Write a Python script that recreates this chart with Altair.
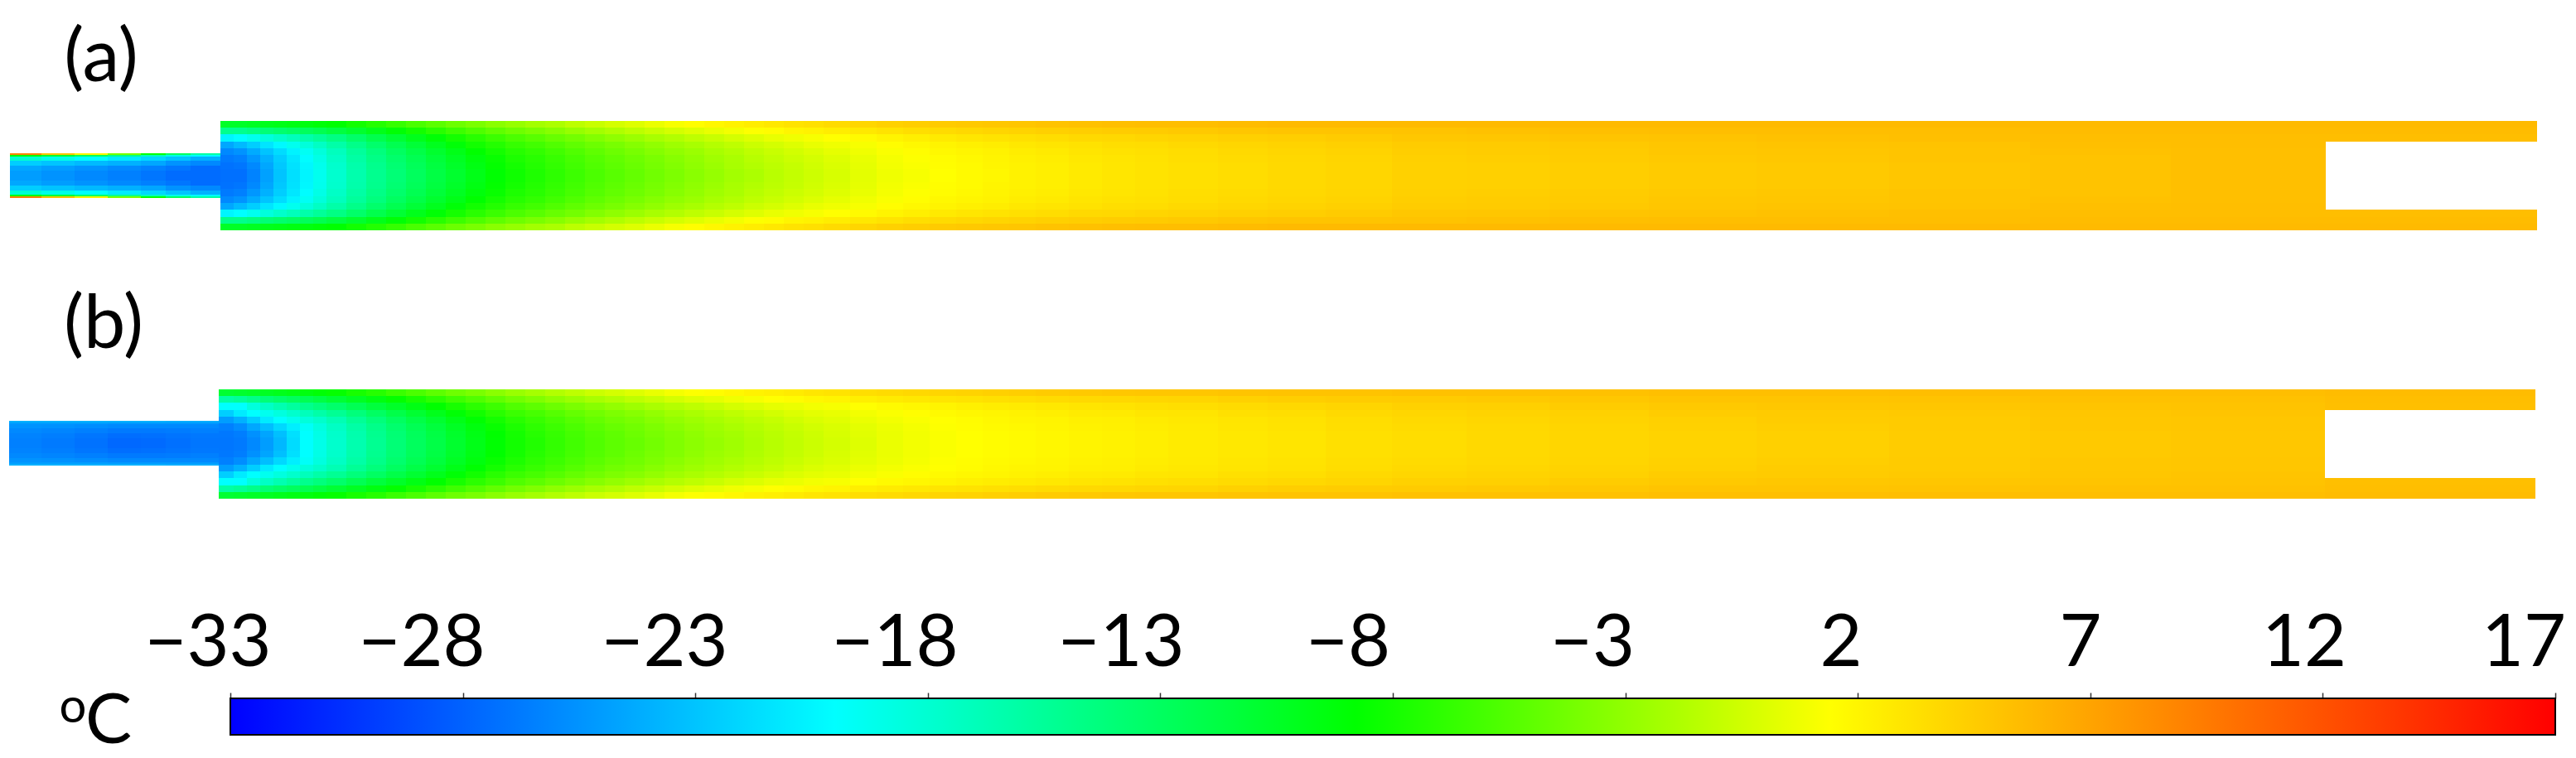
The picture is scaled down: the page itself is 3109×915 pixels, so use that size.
import altair as alt
import pandas as pd

# Temperature scale
T_STOPS = [-33, -20, -8.8, 1.4, 17]
T_COLORS = ["#0000ff", "#00ffff", "#00ff00", "#ffff00", "#ff0000"]
TICKS = [-33, -28, -23, -18, -13, -8, -3, 2, 7, 12, 17]
TICK_TEXT = ["−33", "−28", "−23", "−18", "−13", "−8", "−3", "2", "7", "12", "17"]
TICK_TEXT_X = [251, 509, 802, 1080, 1353, 1627, 1922, 2222, 2511, 2781, 3046]

# Field stations (image pixels along the channel; half-height bands from the axis)
MAIN_EDGES = [266,282,298,314,330,346,362,378,394,
              418,442,466,490,514,538,562,586,610,634,658,682,706,730,754,778,802,826,850,874,898,922,946,970,994,
              1026,1058,1090,1122,1154,1186,1218,1250,1290,1330,1370,1410,
              1470,1530,1600,1680,1770,1870,1990,2120,2280,2450,2620,2807]
MAIN_BANDS = [0, 8, 16, 25, 33, 41, 50, 58, 66]
INLET_EDGES = [12, 50, 90, 130, 170, 200, 230, 266]
INLET_BANDS = [0, 6, 12, 18, 23, 25, 27]

MAIN_A = [
 [-27.3,-27.2,-26.8,-26,-24.5,-20.5,-15,-10.5],[-27.3,-27,-26.5,-25.5,-23.5,-20,-15,-10.5],
 [-26.3,-26,-25.3,-24.3,-22.5,-19.3,-14.5,-10.3],[-24.8,-24.5,-24,-23,-21.3,-18.5,-14,-10],
 [-23,-22.8,-22.5,-21.8,-20.3,-17.7,-13.6,-9.8],[-21.6,-21.5,-21.2,-20.6,-19.3,-17,-13.2,-9.6],
 [-20.5,-20.4,-20.1,-19.5,-18.4,-16.3,-12.8,-9.4],[-19.3,-19.2,-18.9,-18.4,-17.4,-15.5,-12.3,-9.1],
 [-17.9,-17.8,-17.5,-17.1,-16.2,-14.6,-11.6,-8.8],[-16.4,-16.3,-16,-15.6,-14.8,-13.4,-10.8,-8.1],
 [-15.1,-15,-14.7,-14.3,-13.5,-12.2,-9.9,-7.4],[-14,-13.8,-13.5,-13,-12.3,-11.1,-9,-6.7],
 [-12.9,-12.7,-12.4,-11.9,-11.2,-10,-8.1,-5.9],[-11.8,-11.6,-11.3,-10.8,-10.1,-9,-7.2,-5.2],
 [-10.8,-10.6,-10.3,-9.8,-9.1,-8,-6.4,-4.5],[-9.8,-9.6,-9.3,-8.8,-8.1,-7.2,-5.7,-3.9],
 [-8.9,-8.7,-8.5,-8,-7.4,-6.5,-5,-3.3],[-8.2,-8,-7.7,-7.3,-6.7,-5.8,-4.4,-2.8],
 [-7.6,-7.4,-7.2,-6.8,-6.2,-5.3,-3.9,-2.3],[-7,-6.8,-6.6,-6.2,-5.6,-4.7,-3.4,-1.9],
 [-6.4,-6.2,-6,-5.6,-5,-4.2,-2.8,-1.3],[-5.8,-5.6,-5.4,-5,-4.5,-3.6,-2.3,-0.8],
 [-5.3,-5.1,-4.9,-4.5,-4,-3.1,-1.8,-0.3],[-4.8,-4.6,-4.4,-4,-3.5,-2.6,-1.3,0.1],
 [-4.3,-4.1,-3.9,-3.5,-3,-2.1,-0.8,0.6],[-3.8,-3.6,-3.4,-3,-2.5,-1.7,-0.3,1.1],
 [-3.3,-3.1,-2.9,-2.6,-2.1,-1.2,0.1,1.5],[-2.8,-2.6,-2.4,-2.1,-1.6,-0.8,0.5,1.9],
 [-2.3,-2.1,-2,-1.7,-1.2,-0.3,0.9,2.2],[-1.9,-1.7,-1.5,-1.2,-0.7,0.1,1.3,2.5],
 [-1.4,-1.3,-1.1,-0.8,-0.3,0.5,1.6,2.8],[-1,-0.9,-0.7,-0.4,0.1,0.8,2,3.1],
 [-0.6,-0.5,-0.3,0,0.5,1.1,2.2,3.3],[-0.2,-0.1,0.1,0.4,0.8,1.4,2.5,3.6],
 [0.3,0.4,0.5,0.8,1.1,1.7,2.8,3.9],[0.8,0.9,1,1.2,1.5,2.1,3.1,4.2],
 [1.1,1.2,1.3,1.5,1.8,2.4,3.4,4.4],[1.4,1.5,1.6,1.8,2.1,2.7,3.6,4.6],
 [1.7,1.7,1.8,2,2.3,2.9,3.8,4.7],[1.9,2,2.1,2.2,2.5,3.1,4,4.8],
 [2.2,2.2,2.3,2.5,2.8,3.3,4.1,4.9],[2.4,2.4,2.5,2.7,3,3.5,4.3,5.1],
 [2.7,2.7,2.8,3,3.2,3.7,4.4,5.2],[2.9,2.9,3,3.2,3.4,3.8,4.5,5.3],
 [3.1,3.1,3.2,3.3,3.5,4,4.6,5.4],[3.3,3.3,3.4,3.5,3.7,4.1,4.7,5.4],
 [3.5,3.5,3.6,3.7,3.9,4.3,4.9,5.5],[3.7,3.7,3.8,3.9,4.1,4.4,5,5.6],
 [3.9,3.9,4,4.1,4.3,4.6,5,5.6],[4.2,4.2,4.3,4.4,4.5,4.8,5.1,5.6],
 [4.3,4.3,4.4,4.5,4.6,4.9,5.2,5.6],[4.4,4.4,4.5,4.6,4.7,5,5.3,5.6],
 [4.6,4.6,4.7,4.8,4.9,5.1,5.4,5.6],[4.7,4.7,4.8,4.9,5,5.2,5.4,5.6],
 [4.9,4.9,5,5,5.1,5.3,5.4,5.6],[5.1,5.1,5.1,5.2,5.3,5.4,5.5,5.6],
 [5.3,5.3,5.3,5.3,5.4,5.4,5.5,5.6],
]
MAIN_B = [
 [-27,-26.9,-26.5,-25,-22.5,-20,-16,-11],[-26.8,-26.6,-25.8,-24,-21,-20,-15.5,-10.8],
 [-26,-25.6,-24.5,-22.5,-20,-18.5,-14.8,-10.6],[-25,-24.6,-23.3,-21,-19.3,-17.5,-14,-10.3],
 [-23.6,-23.2,-22,-20,-18.6,-16.6,-13.4,-10],[-21.8,-21.6,-20.8,-19.2,-17.8,-15.8,-12.9,-9.7],
 [-20,-20,-19.7,-18.4,-17,-15,-12.4,-9.4],[-19,-18.9,-18.6,-17.7,-16.2,-14.3,-11.8,-9],
 [-17.8,-17.7,-17.4,-16.7,-15.3,-13.5,-11.1,-8.6],[-16.5,-16.4,-16.1,-15.4,-14.2,-12.5,-10.3,-7.9],
 [-15.2,-15.1,-14.8,-14.2,-13.1,-11.5,-9.5,-7.3],[-14,-13.9,-13.6,-13,-12,-10.6,-8.7,-6.5],
 [-12.9,-12.8,-12.5,-11.9,-11,-9.7,-7.9,-5.8],[-11.9,-11.8,-11.5,-10.9,-10,-8.8,-7.1,-5.1],
 [-10.8,-10.7,-10.4,-9.8,-9,-7.9,-6.3,-4.4],[-9.8,-9.7,-9.4,-8.9,-8.1,-7.1,-5.6,-3.9],
 [-8.9,-8.8,-8.5,-8,-7.2,-6.4,-4.9,-3.3],[-8.1,-8,-7.7,-7.2,-6.5,-5.6,-4.2,-2.7],
 [-7.5,-7.3,-7,-6.6,-6,-5.1,-3.7,-2.2],[-6.8,-6.7,-6.4,-6,-5.4,-4.5,-3.1,-1.7],
 [-6.2,-6.1,-5.8,-5.4,-4.8,-3.9,-2.6,-1.2],[-5.6,-5.5,-5.2,-4.8,-4.3,-3.4,-2.1,-0.7],
 [-5.1,-5,-4.7,-4.3,-3.8,-2.9,-1.7,-0.3],[-4.7,-4.5,-4.3,-3.9,-3.4,-2.5,-1.2,0.1],
 [-4.2,-4,-3.8,-3.4,-2.9,-2,-0.8,0.5],[-3.7,-3.6,-3.3,-2.9,-2.4,-1.6,-0.3,1],
 [-3.2,-3.1,-2.8,-2.5,-2,-1.2,0.1,1.3],[-2.8,-2.6,-2.4,-2.1,-1.6,-0.8,0.4,1.6],
 [-2.4,-2.3,-2,-1.7,-1.2,-0.3,0.8,1.9],[-1.9,-1.8,-1.6,-1.3,-0.8,0,1.1,2.2],
 [-1.5,-1.4,-1.2,-0.9,-0.4,0.4,1.4,2.4],[-1.1,-1,-0.8,-0.5,0,0.6,1.6,2.6],
 [-0.7,-0.6,-0.4,-0.1,0.3,0.9,1.9,2.9],[-0.3,-0.2,-0.1,0.2,0.5,1.1,2.1,3.1],
 [0.1,0.2,0.3,0.6,0.9,1.4,2.4,3.4],[0.6,0.6,0.7,0.9,1.2,1.7,2.6,3.6],
 [0.9,0.9,1,1.2,1.5,1.9,2.8,3.8],[1.2,1.2,1.3,1.4,1.7,2.1,3,4],
 [1.4,1.4,1.5,1.6,1.9,2.3,3.1,4.1],[1.6,1.6,1.7,1.8,2,2.5,3.3,4.3],
 [1.7,1.7,1.8,2,2.2,2.6,3.4,4.4],[1.9,1.9,2,2.1,2.4,2.8,3.6,4.6],
 [2.1,2.1,2.2,2.3,2.6,3,3.7,4.7],[2.2,2.2,2.3,2.4,2.7,3.1,3.8,4.8],
 [2.4,2.4,2.5,2.6,2.9,3.3,3.9,4.9],[2.6,2.6,2.7,2.8,3,3.4,4,4.9],
 [2.8,2.8,2.9,3,3.3,3.6,4.2,5],[3,3,3.1,3.2,3.4,3.8,4.4,5.1],
 [3.3,3.3,3.4,3.5,3.7,4,4.5,5.1],[3.5,3.5,3.6,3.7,3.9,4.2,4.6,5.2],
 [3.7,3.7,3.8,3.9,4.1,4.3,4.7,5.2],[3.9,3.9,4,4.1,4.2,4.5,4.8,5.2],
 [4.1,4.1,4.2,4.3,4.5,4.7,5,5.3],[4.3,4.3,4.4,4.5,4.6,4.8,5,5.3],
 [4.5,4.5,4.6,4.6,4.7,4.9,5.1,5.4],[4.7,4.7,4.8,4.8,4.9,5,5.2,5.4],
 [4.8,4.8,4.9,4.9,5,5.1,5.2,5.4],
]
# Prongs beside the end slot: the three outermost bands
PRONG_A = [5.4, 5.5, 5.6]
PRONG_B = [5.3, 5.4, 5.5]
INLET_A = [
 [-25,-24.5,-22.5,-18,-9,9],[-25.5,-25,-23,-19,-11,5],[-26,-25.5,-23.5,-20,-13,2],
 [-26.5,-26,-24,-21,-15,-4],[-27,-26.5,-24.5,-22,-17,-9],[-27.5,-27,-25.5,-23,-19,-13],
 [-27.5,-27.5,-26,-24,-20,-16],
]
INLET_B = [
 [-26.5,-26.3,-26,-25.5,-25,-24],[-26.8,-26.6,-26.2,-25.6,-25,-24],[-27.2,-27,-26.5,-25.8,-25,-24],
 [-27.7,-27.4,-26.8,-26,-25.2,-24],[-27.6,-27.3,-26.8,-26,-25.2,-24],[-27.3,-27.1,-26.7,-26,-25.2,-24.2],
 [-27,-26.9,-26.5,-26,-25.2,-24.2],
]

PANELS = [
    dict(main=MAIN_A, prong=PRONG_A, inlet=INLET_A, start=266, end=3062, slot=2807, cy=212, icy=212, ix=12),
    dict(main=MAIN_B, prong=PRONG_B, inlet=INLET_B, start=264, end=3060, slot=2806, cy=536, icy=535, ix=11),
]

PANEL_TEXT = ["(a)", "(b)"]
PANEL_TEXT_X = [122, 125]
PANEL_TEXT_Y = [98, 420]

cells = []
def add(x0, x1, cy, b0, b1, t):
    cells.append(dict(x0=x0, x1=x1, y0=cy - b1, y1=cy - b0, t=t))
    cells.append(dict(x0=x0, x1=x1, y0=cy + b0, y1=cy + b1, t=t))

for p in PANELS:
    edges = [p["start"]] + MAIN_EDGES[1:-1] + [p["slot"]]
    for i, col in enumerate(p["main"]):
        for j, t in enumerate(col):
            add(edges[i], edges[i + 1], p["cy"], MAIN_BANDS[j], MAIN_BANDS[j + 1], t)
    for j, t in enumerate(p["prong"]):
        add(p["slot"], p["end"], p["cy"], MAIN_BANDS[j + 5], MAIN_BANDS[j + 6], t)
    iedges = [p["ix"]] + INLET_EDGES[1:-1] + [p["start"]]
    for i, col in enumerate(p["inlet"]):
        for j, t in enumerate(col):
            add(iedges[i], iedges[i + 1], p["icy"], INLET_BANDS[j], INLET_BANDS[j + 1], t)

PAGE_W, PAGE_H = 3093, 905
px_x = alt.Scale(domain=[8, 8 + PAGE_W], range=[0, PAGE_W])
px_y = alt.Scale(domain=[8, 8 + PAGE_H], range=[0, PAGE_H])

field = alt.Chart(pd.DataFrame(cells)).mark_rect(strokeWidth=0).encode(
    x=alt.X("x0:Q", scale=px_x, axis=None),
    x2="x1:Q",
    y=alt.Y("y0:Q", scale=px_y, axis=None),
    y2="y1:Q",
    color=alt.Color("t:Q", scale=alt.Scale(domain=T_STOPS, range=T_COLORS, interpolate="rgb"), legend=None),
)

gradient = alt.Gradient(
    gradient="linear", x1=0, x2=1, y1=0, y2=0,
    stops=[alt.GradientStop(offset=(t + 33) / 50, color=c) for t, c in zip(T_STOPS, T_COLORS)],
)
bar = alt.Chart(pd.DataFrame({"t0": [TICKS[0]], "t1": [TICKS[-1]]})).mark_rect(
    fill=gradient, stroke="#000000", strokeWidth=2
).encode(
    x=alt.X("t0:Q", scale=alt.Scale(domain=[-33, 17], range=[270, 3076]),
            axis=alt.Axis(values=TICKS, orient="top", offset=-835, labels=False, domain=False, grid=False,
                          ticks=True, tickSize=7, tickWidth=1.5, tickColor="#333333", title=None)),
    x2="t1:Q",
    y=alt.value(835),
    y2=alt.value(879),
)

FONT = "Lato"
def text_layer(xs, ys, texts, size):
    return alt.Chart(pd.DataFrame({"x": xs, "y": ys, "s": texts})).mark_text(
        font=FONT, fontSize=size, align="center", baseline="alphabetic", color="#000000"
    ).encode(
        x=alt.X("x:Q", scale=px_x, axis=None),
        y=alt.Y("y:Q", scale=px_y, axis=None),
        text="s:N",
    )

tick_text = text_layer(TICK_TEXT_X, [804] * len(TICK_TEXT), TICK_TEXT, 88)
panel_text = text_layer(PANEL_TEXT_X, PANEL_TEXT_Y, PANEL_TEXT, 90)
unit_o = text_layer([88], [872], ["o"], 58)
unit_c = text_layer([131], [897], ["C"], 84)

chart = alt.layer(field, bar, tick_text, panel_text, unit_o, unit_c).resolve_scale(
    x="independent", y="independent", color="independent"
).properties(
    width=PAGE_W, height=PAGE_H, padding=0, autosize=alt.AutoSizeParams(type="none")
).configure_view(stroke=None)

chart.save("out.html", embed_options={"renderer": "svg", "actions": False})
